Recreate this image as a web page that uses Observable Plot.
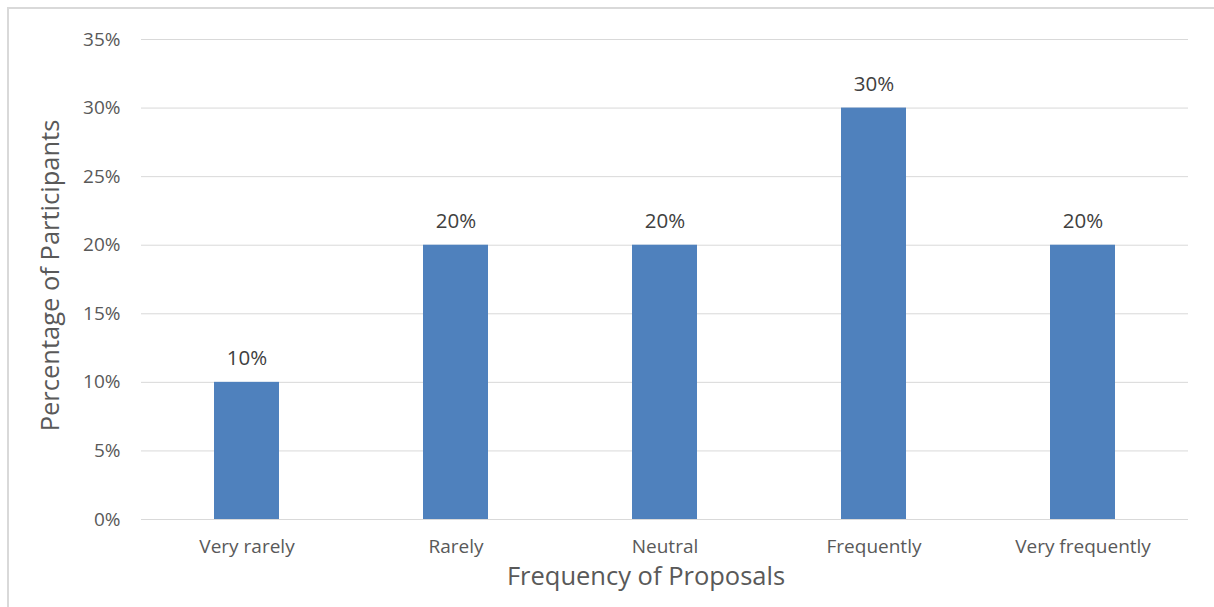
<!DOCTYPE html>
<html>
<head>
<meta charset="utf-8">
<script src="https://cdn.jsdelivr.net/npm/d3@7"></script>
<script src="https://cdn.jsdelivr.net/npm/@observablehq/plot@0.6"></script>
<style>
  html, body { margin: 0; padding: 0; background: #fff; width: 1214px; height: 607px; overflow: hidden; }
  #frame { position: absolute; left: 7px; top: 7px; width: 1220px; height: 620px; border: 2px solid #d9d9d9; box-sizing: border-box; }
  #chart { position: absolute; left: 0; top: 0; }
</style>
</head>
<body>
<div id="frame"></div>
<div id="chart"></div>
<script>
const categories = ["Very rarely", "Rarely", "Neutral", "Frequently", "Very frequently"];
const percentages = [10, 20, 20, 30, 20];
const yTicks = [0, 5, 10, 15, 20, 25, 30, 35];
const xTitle = "Frequency of Proposals";
const yTitle = "Percentage of Participants";

const data = categories.map((c, i) => ({category: c, value: percentages[i]}));
const font = "'Open Sans', Lato, sans-serif";

const chart = Plot.plot({
  width: 1214,
  height: 607,
  marginLeft: 141,
  marginRight: 26,
  marginTop: 39,
  marginBottom: 88,
  style: {fontFamily: font, background: "transparent", overflow: "visible"},
  x: {domain: categories, paddingInner: 0.69, paddingOuter: 0.345, align: 0.5, label: null},
  y: {domain: [0, 35], label: null},
  marks: [
    Plot.gridY(yTicks, {stroke: "#d9d9d9", strokeOpacity: 1, strokeWidth: 1}),
    Plot.barY(data, {x: "category", y: "value", fill: "#4f81bd"}),
    Plot.text(data, {x: "category", y: "value", text: d => d.value + "%", dy: -24, fontSize: 20.5, fill: "#404040"}),
    Plot.axisY(yTicks, {tickSize: 0, tickPadding: 21, tickFormat: d => d + "%", fontSize: 19, color: "#595959", label: null}),
    Plot.axisX({tickSize: 0, tickPadding: 20, fontSize: 19, color: "#595959", label: null}),
    Plot.text([xTitle], {frameAnchor: "bottom", lineAnchor: "middle", textAnchor: "middle", dy: 57, dx: -19, fontSize: 25.5, fill: "#595959"}),
    Plot.text([yTitle], {frameAnchor: "left", lineAnchor: "middle", textAnchor: "middle", dx: -91, dy: -4, rotate: -90, fontSize: 25.5, fill: "#595959"})
  ]
});
document.getElementById("chart").appendChild(chart);
</script>
</body>
</html>
